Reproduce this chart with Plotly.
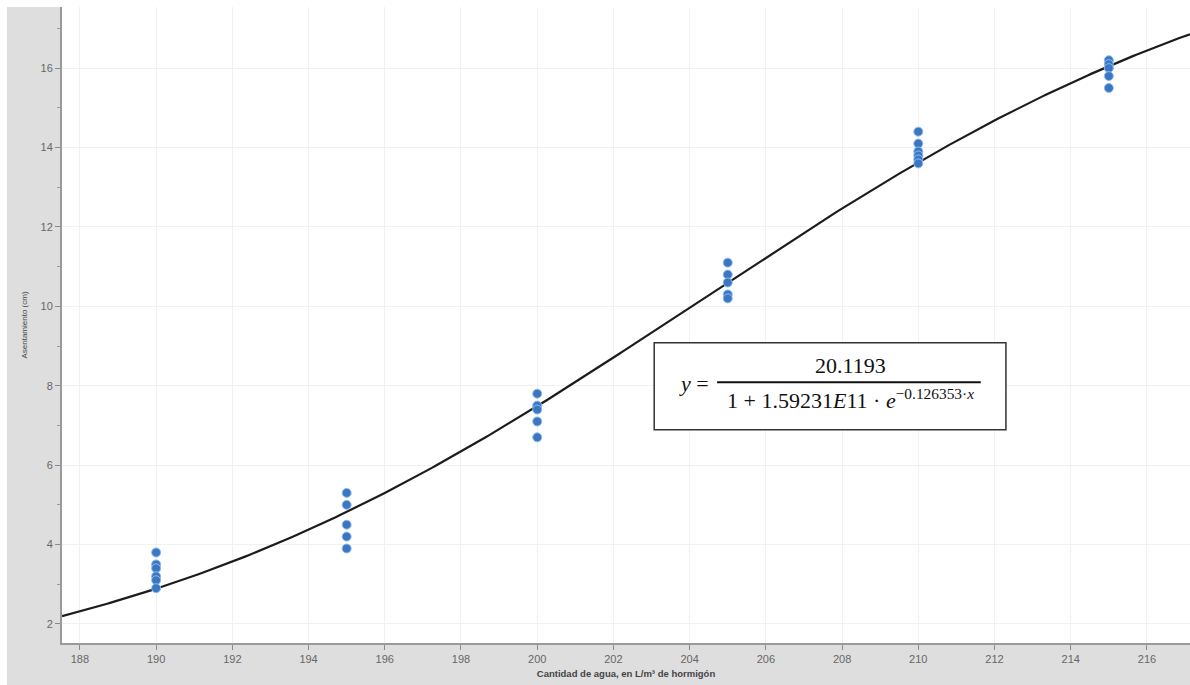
import numpy as np
import plotly.graph_objects as go

# Measured slump (cm) for each water content (L/m3 of concrete)
water = [190] * 6 + [195] * 5 + [200] * 5 + [205] * 5 + [210] * 6 + [215] * 5
slump = [3.8, 3.5, 3.4, 3.2, 3.1, 2.9,
         5.3, 5.0, 4.5, 4.2, 3.9,
         7.8, 7.5, 7.4, 7.1, 6.7,
         11.1, 10.8, 10.6, 10.3, 10.2,
         14.4, 14.1, 13.9, 13.8, 13.7, 13.6,
         16.2, 16.1, 16.0, 15.8, 15.5]

# Logistic fit coefficients
K = 20.1193
A = 1.59231e11
R = 0.126353

x_range = [187.53, 217.13]
y_range = [1.52, 17.54]

xc = np.linspace(x_range[0], x_range[1], 400)
yc = K / (1 + A * np.exp(-R * xc))

fig = go.Figure()
fig.add_trace(go.Scatter(
    x=xc, y=yc, mode="lines",
    line=dict(color="#1c1c1c", width=2.2),
    hoverinfo="skip", showlegend=False,
))
fig.add_trace(go.Scatter(
    x=water, y=slump, mode="markers",
    marker=dict(size=9, color="#3a76c2", line=dict(color="#8fbcf0", width=1)),
    showlegend=False,
))

serif = "Liberation Serif, Times New Roman, serif"

# Equation box
fig.add_shape(type="rect", xref="x", yref="y", x0=203.07, x1=212.30, y0=6.89, y1=9.08,
              fillcolor="white", line=dict(color="#333333", width=1.5), layer="above")
fig.add_shape(type="line", xref="x", yref="y", x0=204.72, x1=211.64, y0=8.09, y1=8.09,
              line=dict(color="#111111", width=2), layer="above")
fig.add_annotation(x=208.21, y=8.52, xref="x", yref="y", text="20.1193", showarrow=False,
                   font=dict(family=serif, size=22, color="#111111"))
fig.add_annotation(x=208.21, y=7.66, xref="x", yref="y",
                   text="1 + 1.59231<i>E</i>11 · <i>e</i><sup>−0.126353·<i>x</i></sup>",
                   showarrow=False, font=dict(family=serif, size=22, color="#111111"))
fig.add_annotation(x=204.12, y=8.06, xref="x", yref="y", text="<i>y</i> =", showarrow=False,
                   font=dict(family=serif, size=22, color="#111111"))

# White strips around the grey frame
fig.add_shape(type="rect", xref="paper", yref="paper", x0=-0.06, x1=-0.0488, y0=-0.1, y1=1.02,
              fillcolor="white", line=dict(width=0), layer="below")
fig.add_shape(type="rect", xref="paper", yref="paper", x0=-0.06, x1=1.0, y0=1.0, y1=1.02,
              fillcolor="white", line=dict(width=0), layer="below")

fig.update_layout(
    width=1190, height=685,
    margin=dict(l=62, r=0, t=7, b=42),
    paper_bgcolor="#dedede",
    plot_bgcolor="white",
    font=dict(family="Liberation Sans, Arial, sans-serif", color="#666666", size=11),
    xaxis=dict(
        range=x_range, tick0=188, dtick=2, showgrid=True, gridcolor="#f1f1f1",
        showline=True, linecolor="#9a9a9a", linewidth=2,
        ticks="outside", ticklen=5, tickcolor="#8a8a8a", zeroline=False,
        title=dict(text="<b>Cantidad de agua, en L/m³ de hormigón</b>",
                   font=dict(size=9.5, color="#444444"), standoff=6),
    ),
    yaxis=dict(
        range=y_range, tick0=2, dtick=2, showgrid=True, gridcolor="#f1f1f1",
        showline=True, linecolor="#9a9a9a", linewidth=2,
        ticks="outside", ticklen=5, tickcolor="#8a8a8a", zeroline=False,
        minor=dict(dtick=1, tick0=1, ticks="outside", ticklen=3, tickcolor="#9a9a9a", showgrid=False),
        title=dict(text="Asentamiento (cm)", font=dict(size=8, color="#444444"), standoff=12),
    ),
)

fig.write_html("out.html")
